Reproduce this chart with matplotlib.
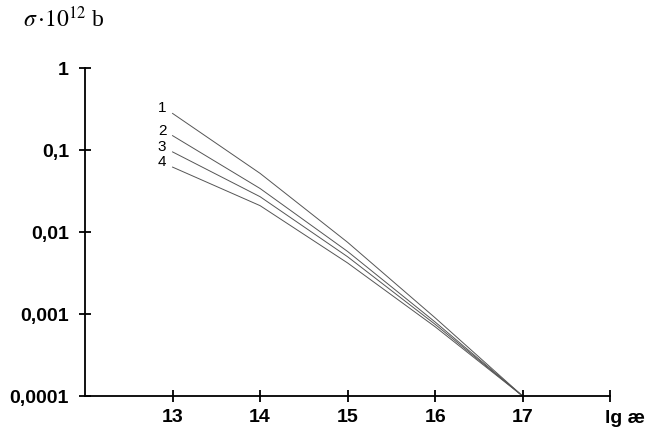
import numpy as np
import matplotlib
matplotlib.use('Agg')
import matplotlib.pyplot as plt

plt.rcParams['font.family'] = ['Liberation Sans', 'DejaVu Sans']
plt.rcParams['mathtext.fontset'] = 'stix'

lg_ae = [13, 14, 15, 16, 17]
curve_1 = [0.28, 0.052, 0.0075, 0.0009, 0.0001]
curve_2 = [0.15, 0.034, 0.0058, 0.0008, 0.0001]
curve_3 = [0.095, 0.027, 0.0050, 0.00075, 0.0001]
curve_4 = [0.062, 0.021, 0.0042, 0.0007, 0.0001]
curve_names = ['1', '2', '3', '4']

y_ticks = [0.0001, 0.001, 0.01, 0.1, 1]
y_labels = ['0,0001', '0,001', '0,01', '0,1', '1']
x_ticks = [13, 14, 15, 16, 17, 18]
x_labels = ['13', '14', '15', '16', '17', '']

fig = plt.figure(figsize=(6.54, 4.45), dpi=100)
ax = fig.add_axes([0.130, 0.110, 0.803, 0.737])

for c, name in zip([curve_1, curve_2, curve_3, curve_4], curve_names):
    ax.plot(lg_ae, c, color='#555555', lw=0.7)
    ax.text(lg_ae[0] - 0.07, c[0] * 1.15, name, ha='right', va='center',
            fontsize=11)

ax.set_yscale('log')
ax.set_xlim(12, 18)
ax.set_ylim(1e-4, 1)
ax.set_yticks(y_ticks)
ax.set_yticklabels(y_labels)
ax.minorticks_off()
ax.set_xticks(x_ticks)
ax.set_xticklabels(x_labels)

for s in ['top', 'right']:
    ax.spines[s].set_visible(False)
for s in ['left', 'bottom']:
    ax.spines[s].set_linewidth(1.3)
    ax.spines[s].set_color('black')

ax.tick_params(axis='both', direction='inout', length=9, width=1.3,
               labelsize=14, pad=5)
ax.tick_params(axis='y', pad=7)
for lab in ax.get_xticklabels() + ax.get_yticklabels():
    lab.set_fontweight('bold')

t = ax.text(18.17, 10 ** (-4.17), 'lg æ', ha='center', va='top',
            fontsize=14, fontweight='bold')
t.set_clip_on(False)

fig.text(0.035, 0.94, r'$\sigma\,$' + r'$\cdot10^{12}$ b', fontsize=17,
         family='Liberation Serif', ha='left', va='baseline')

fig.savefig('out.png', dpi=100)
